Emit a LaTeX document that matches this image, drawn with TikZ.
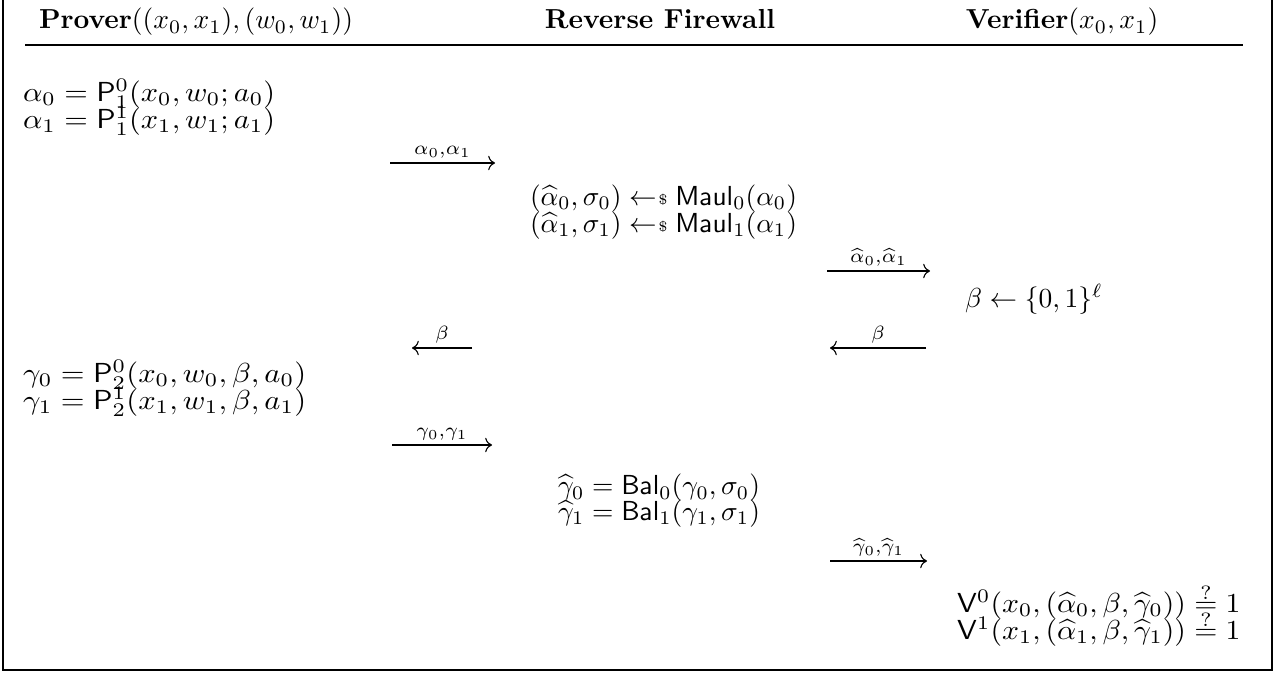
\documentclass[tikz,border=0pt]{standalone}
\usepackage{amsmath,amssymb}
\usepackage{graphicx}
\usetikzlibrary{arrows.meta}
\newcommand\smpl{\mathrel{\leftarrow\mkern-4mu\raisebox{0.1ex}{\tiny\$}}}
\newcommand\qeq{\mathrel{\overset{\raisebox{-0.45ex}{$\scriptstyle ?$}}{=}}}
\newcommand\wide[2]{\scalebox{#1}[1]{#2}}
\tikzset{
  txt/.style={inner sep=0pt, outer sep=0pt, anchor=west},
  hdr/.style={inner sep=0pt, outer sep=0pt, anchor=base},
  msg/.style={line width=0.4pt, -{Computer Modern Rightarrow}},
  lab/.style={above, inner sep=1.6pt, font=\scriptsize},
  frm/.style={line width=0.5pt}
}
\begin{document}
\begin{tikzpicture}[x=0.3636pt,y=-0.3636pt]
\useasboundingbox (0,0) rectangle (1279,674);
\draw[frm] (3,0) -- (3,670) -- (1272,670) -- (1272,0);
% header
\node[hdr] (hp) at (196,29) {$\textbf{Prover}((x_0,x_1),(w_0,w_1))$};
\node[hdr] (hr) at (660,29) {\textbf{Reverse Firewall}};
\node[hdr] (hv) at (1062,29) {$\textbf{Verifier}(x_0,x_1)$};
\coordinate (rl) at (25,45);
\coordinate (rr) at (1243,45);
\draw[line width=0.4pt] (rl) -- (rr);
% prover first move
\node[txt] (a0) at (23,94) {\wide{1.1}{$\alpha_0 = \mathsf{P}^0_1(x_0,w_0;a_0)$}};
\node[txt] (a1) at (23,121) {\wide{1.1}{$\alpha_1 = \mathsf{P}^1_1(x_1,w_1;a_1)$}};
\coordinate (m1s) at (390,163);
\coordinate (m1e) at (495,163);
\draw[msg] (m1s) -- node[lab] {$\alpha_0{,}\alpha_1$} (m1e);
% firewall maul
\node[txt] (mu0) at (530,199) {$(\widehat{\alpha}_0,\sigma_0) \smpl \mathsf{Maul}_0(\alpha_0)$};
\node[txt] (mu1) at (530,226) {$(\widehat{\alpha}_1,\sigma_1) \smpl \mathsf{Maul}_1(\alpha_1)$};
\coordinate (m2s) at (827,271);
\coordinate (m2e) at (930,271);
\draw[msg] (m2s) -- node[lab] {$\widehat{\alpha}_0{,}\widehat{\alpha}_1$} (m2e);
% verifier challenge
\node[txt] (bt) at (965,299) {$\beta \leftarrow \{0,1\}^\ell$};
\coordinate (m3s) at (926,348);
\coordinate (m3e) at (830,348);
\draw[msg] (m3s) -- node[lab] {$\beta$} (m3e);
\coordinate (m4s) at (472,348);
\coordinate (m4e) at (412,348);
\draw[msg] (m4s) -- node[lab] {$\beta$} (m4e);
% prover response
\node[txt] (g0) at (23,375) {\wide{1.11}{$\gamma_0 = \mathsf{P}^0_2(x_0,w_0,\beta,a_0)$}};
\node[txt] (g1) at (23,402) {\wide{1.11}{$\gamma_1 = \mathsf{P}^1_2(x_1,w_1,\beta,a_1)$}};
\coordinate (m5s) at (392,445);
\coordinate (m5e) at (492,445);
\draw[msg] (m5s) -- node[lab] {$\gamma_0{,}\gamma_1$} (m5e);
% firewall balance
\node[txt] (b0) at (558,488) {$\widehat{\gamma}_0 = \mathsf{Bal}_0(\gamma_0,\sigma_0)$};
\node[txt] (b1) at (558,514) {$\widehat{\gamma}_1 = \mathsf{Bal}_1(\gamma_1,\sigma_1)$};
\coordinate (m6s) at (830,561);
\coordinate (m6e) at (927,561);
\draw[msg] (m6s) -- node[lab] {$\widehat{\gamma}_0{,}\widehat{\gamma}_1$} (m6e);
% verifier check
\node[txt] (v0) at (957,601) {\wide{1.08}{$\mathsf{V}^0(x_0,(\widehat{\alpha}_0,\beta,\widehat{\gamma}_0)) \qeq 1$}};
\node[txt] (v1) at (957,628) {\wide{1.08}{$\mathsf{V}^1(x_1,(\widehat{\alpha}_1,\beta,\widehat{\gamma}_1)) \qeq 1$}};
\end{tikzpicture}
\end{document}
